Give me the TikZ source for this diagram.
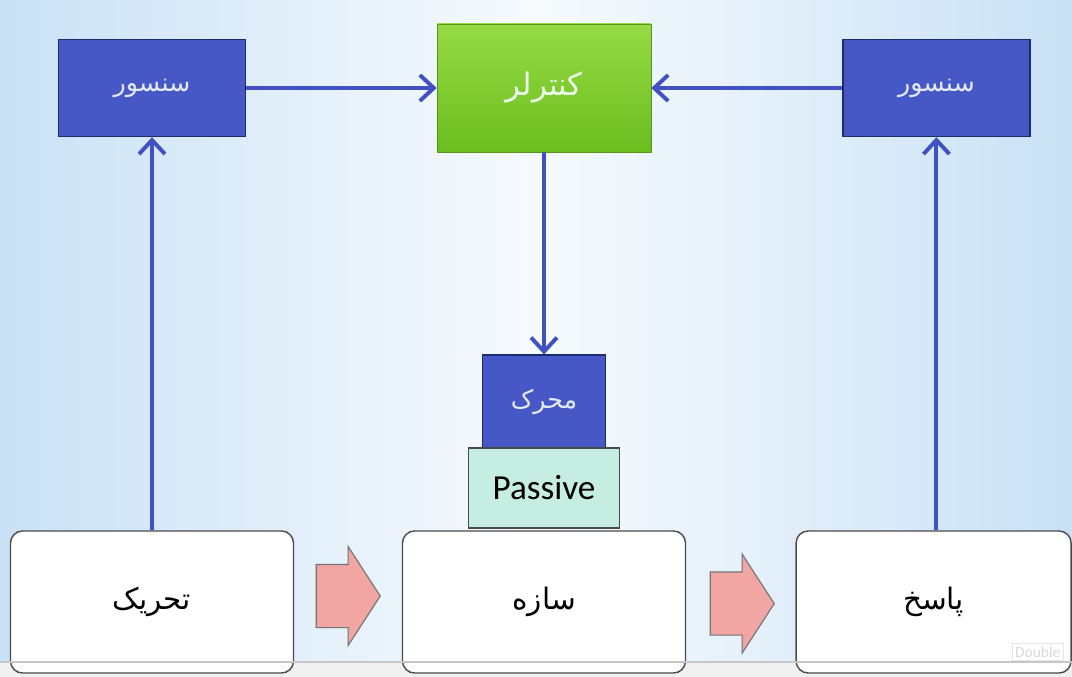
\documentclass[tikz,border=0pt]{standalone}
\usepackage{fontspec}
\setmainfont{Carlito}
\newfontfamily\arabicfont[Script=Arabic]{DejaVu Sans}
\TeXXeTstate=1
\usetikzlibrary{arrows.meta,shapes.arrows}

\definecolor{bgblue}{HTML}{C9E1F5}
\definecolor{sensorblue}{HTML}{4558C6}
\definecolor{sensoredge}{HTML}{1C2A70}
\definecolor{sensortext}{HTML}{E4E9F6}
\definecolor{ctrltop}{HTML}{96DA44}
\definecolor{ctrlbottom}{HTML}{6CBD1F}
\definecolor{passivefill}{HTML}{C6EDE1}
\definecolor{arrowblue}{HTML}{4052C2}
\definecolor{pinkfill}{HTML}{F2A6A4}
\definecolor{edgegray}{HTML}{4A4A4A}

\begin{document}
\begin{tikzpicture}[
    sensor/.style={rectangle, draw=sensoredge, line width=1pt, fill=sensorblue, text=sensortext, minimum width=4.675cm, minimum height=2.425cm, font=\arabicfont\fontsize{18}{20}\selectfont},
    ctrlbox/.style={rectangle, top color=ctrltop, bottom color=ctrlbottom, draw=ctrlbottom!80!black, line width=0.4pt, text=white!92!green, minimum width=5.35cm, minimum height=3.2cm, font=\arabicfont\fontsize{22}{24}\selectfont},
    passivebox/.style={rectangle, draw=edgegray, line width=1pt, fill=passivefill, minimum width=3.775cm, minimum height=2cm, font=\fontsize{25}{28}\selectfont},
    plant/.style={rectangle, rounded corners=0.3cm, draw=edgegray, line width=1pt, fill=white, minimum width=7.075cm, minimum height=3.55cm, font=\arabicfont\fontsize{21}{24}\selectfont},
    flow/.style={single arrow, draw=gray!90!black, line width=0.8pt, fill=pinkfill, minimum height=1.6cm, inner xsep=0pt, inner ysep=0.775cm, single arrow head extend=0.45cm, single arrow tip angle=114},
    arrow/.style={-{Straight Barb[length=3.5mm,width=6.5mm]}, line width=2.8pt, draw=arrowblue}
]
\useasboundingbox (0,0) rectangle (26.8,-16.925);
\clip (0,0) rectangle (26.8,-16.925);

% background
\shade[left color=bgblue, right color=bgblue, middle color=white!85!bgblue] (0,0) rectangle (26.8,-16.925);
\fill[gray!12] (0,-16.55) rectangle (26.8,-16.925);

% Sensors and controller
\node[sensor] (sensL) at (3.8,-2.2) {\beginR سنسور\endR};
\node[ctrlbox] (ctrl) at (13.6,-2.2) {\beginR کنترلر\endR};
\node[sensor] (sensR) at (23.41,-2.2) {\beginR سنسور\endR};

% Actuator on the structure
\node[sensor, minimum width=3.075cm, minimum height=2.325cm] (motor) at (13.6,-10.04) {\beginR محرک\endR};
\node[passivebox] (passive) at (13.6,-12.2) {Passive};

% Bottom row
\node[plant] (excite) at (3.8,-15.05) {\beginR تحریک\endR};
\node[plant] (struct) at (13.6,-15.05) {\beginR سازه\endR};
\node[plant, minimum width=6.875cm] (resp) at (23.34,-15.05) {\beginR پاسخ\endR};

\node[flow] (flowA) at (8.45,-14.9) {};
\node[flow] (flowB) at (18.3,-15.09) {};

% Arrows
\draw[arrow] (sensL) -- (ctrl);
\draw[arrow] (sensR) -- (ctrl);
\draw[arrow] (ctrl) -- (motor);
\draw[arrow] (excite) -- (sensL);
\draw[arrow] (resp.north -| sensR.south) -- (sensR.south);

% screen strip
\draw[gray!45, line width=0.8pt] (0,-16.55) -- (26.8,-16.55);
\node[draw=gray!20, text=gray!30, anchor=west, font=\fontsize{11}{12}\selectfont, inner sep=2pt] (dbl) at (25.3,-16.3) {Double};

\end{tikzpicture}
\end{document}
